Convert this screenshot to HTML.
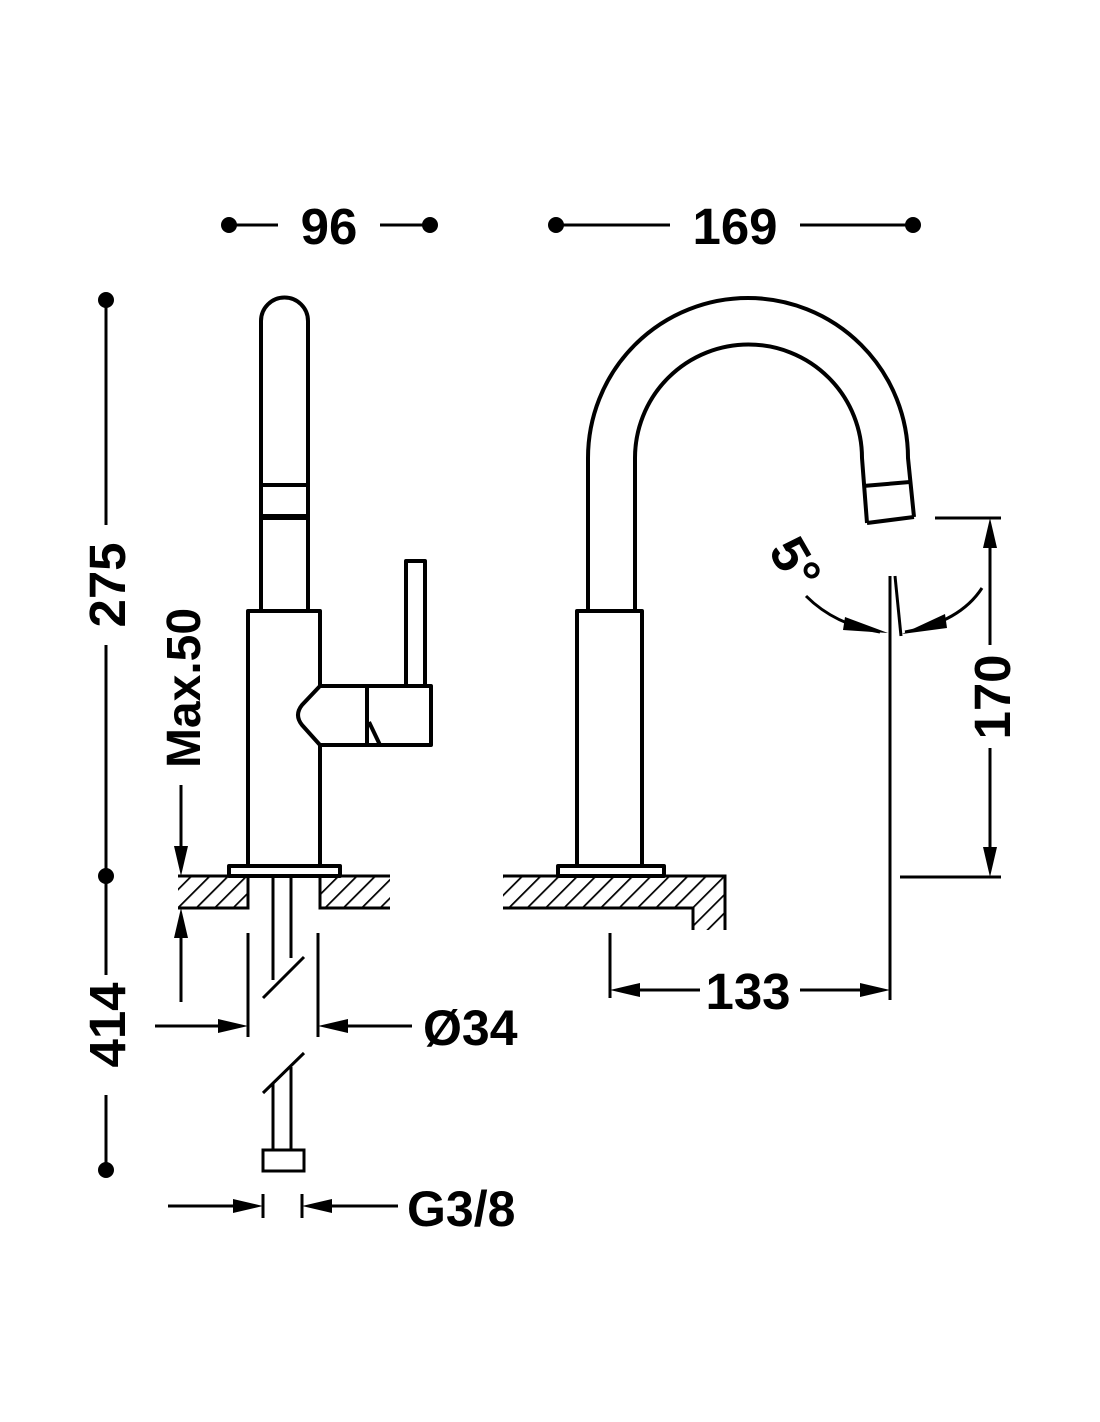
<!DOCTYPE html>
<html><head><meta charset="utf-8"><style>
html,body{margin:0;padding:0;background:#fff}
svg{display:block}
text{font-family:"Liberation Sans",Arial,sans-serif;font-weight:bold;fill:#000}
</style></head><body>
<svg width="1100" height="1422" viewBox="0 0 1100 1422" xmlns="http://www.w3.org/2000/svg">
<defs>
<pattern id="h" patternUnits="userSpaceOnUse" width="13" height="13" patternTransform="rotate(45)">
<line x1="0" y1="0" x2="0" y2="13" stroke="#000" stroke-width="3.5"/>
</pattern>
</defs>
<g fill="#000">
<circle cx="229" cy="225" r="8"/><circle cx="430" cy="225" r="8"/>
<circle cx="556" cy="225" r="8"/><circle cx="913" cy="225" r="8"/>
<circle cx="106" cy="300" r="8"/><circle cx="106" cy="876" r="8"/><circle cx="106" cy="1170" r="8"/>
</g>
<g stroke="#000" stroke-width="3" fill="none">
<line x1="229" y1="225" x2="278" y2="225"/><line x1="380" y1="225" x2="430" y2="225"/>
<line x1="556" y1="225" x2="670" y2="225"/><line x1="800" y1="225" x2="913" y2="225"/>
<line x1="106" y1="300" x2="106" y2="525"/><line x1="106" y1="645" x2="106" y2="876"/>
<line x1="106" y1="876" x2="106" y2="975"/><line x1="106" y1="1095" x2="106" y2="1170"/>
</g>
<text x="329" y="244" font-size="51" text-anchor="middle">96</text>
<text x="735" y="244" font-size="51" text-anchor="middle">169</text>
<text transform="translate(125,585) rotate(-90)" font-size="51" text-anchor="middle">275</text>
<text transform="translate(125,1025) rotate(-90)" font-size="51" text-anchor="middle">414</text>
<text transform="translate(200,688) rotate(-90)" font-size="48" text-anchor="middle">Max.50</text>

<g stroke="#000" stroke-width="4" fill="none" stroke-linejoin="round">
<path d="M261,611 L261,321 A23.5,23.5 0 0 1 308,321 L308,611"/>
<line x1="261" y1="485" x2="308" y2="485"/>
<line x1="261" y1="517" x2="308" y2="517" stroke-width="6"/>
<rect x="248" y="611" width="72" height="255"/>
<rect x="229" y="866" width="111" height="10"/>
<rect x="406" y="561" width="19" height="125"/>
<path d="M320,686 L431,686 L431,745 L320,745 L302,725 Q294,715 302,705 Z" fill="#fff"/>
<line x1="367" y1="686" x2="367" y2="745"/>
<line x1="369" y1="722" x2="380" y2="745"/>
</g>
<rect x="178" y="876" width="70" height="32" fill="url(#h)"/>
<rect x="320" y="876" width="70" height="32" fill="url(#h)"/>
<path d="M503,876 L725,876 L725,930 L693,930 L693,908 L503,908 Z" fill="url(#h)"/>
<g stroke="#000" stroke-width="3" fill="none">
<path d="M178,876 L248,876 L248,908 L178,908"/>
<path d="M390,876 L320,876 L320,908 L390,908"/>
<path d="M503,876 L725,876 L725,930 M693,930 L693,908 L503,908"/>
</g>
<g stroke="#000" stroke-width="3" fill="none">
<line x1="273" y1="878" x2="273" y2="980"/>
<line x1="291" y1="878" x2="291" y2="958"/>
<line x1="263" y1="998" x2="304" y2="957"/>
<line x1="263" y1="1093" x2="304" y2="1053"/>
<line x1="273" y1="1083" x2="273" y2="1150"/>
<line x1="291" y1="1067" x2="291" y2="1150"/>
<rect x="263" y="1150" width="41" height="21"/>
<line x1="248" y1="933" x2="248" y2="1037"/>
<line x1="318" y1="933" x2="318" y2="1037"/>
<line x1="155" y1="1026" x2="222" y2="1026"/>
<line x1="344" y1="1026" x2="412" y2="1026"/>
<line x1="263" y1="1194" x2="263" y2="1218"/>
<line x1="302" y1="1194" x2="302" y2="1218"/>
<line x1="168" y1="1206" x2="238" y2="1206"/>
<line x1="328" y1="1206" x2="398" y2="1206"/>
<line x1="181" y1="785" x2="181" y2="850"/>
<line x1="181" y1="935" x2="181" y2="1002"/>
</g>
<g fill="#000">
<polygon points="248,1026 218,1019 218,1033"/>
<polygon points="318,1026 348,1019 348,1033"/>
<polygon points="263,1206 233,1199 233,1213"/>
<polygon points="302,1206 332,1199 332,1213"/>
<polygon points="181,876 174,846 188,846"/>
<polygon points="181,908 174,938 188,938"/>
</g>
<text x="423" y="1045" font-size="50">Ø34</text>
<text x="407" y="1226" font-size="50">G3/8</text>

<g stroke="#000" stroke-width="4" fill="none" stroke-linejoin="round">
<path d="M588,611 L588,458 A160,160 0 0 1 908,458 L914,517"/>
<path d="M635,611 L635,458 A113.5,113.5 0 0 1 862,458 L867,523"/>
<line x1="863" y1="486" x2="910" y2="482"/>
<line x1="867" y1="523" x2="914" y2="517"/>
<rect x="577" y="611" width="65" height="255"/>
<rect x="558" y="866" width="106" height="10"/>
</g>
<g stroke="#000" stroke-width="3" fill="none">
<line x1="890" y1="576" x2="890" y2="1000"/>
<line x1="895" y1="576" x2="901" y2="636"/>
<path d="M806,596 Q835,625 880,632"/>
<path d="M982,588 Q960,622 905,632"/>
<line x1="935" y1="518" x2="1001" y2="518"/>
<line x1="900" y1="877" x2="1001" y2="877"/>
<line x1="990" y1="540" x2="990" y2="645"/>
<line x1="990" y1="748" x2="990" y2="855"/>
<line x1="610" y1="933" x2="610" y2="998"/>
<line x1="635" y1="990" x2="700" y2="990"/>
<line x1="800" y1="990" x2="865" y2="990"/>
</g>
<g fill="#000">
<polygon points="888,633 845,617 843,630"/>
<polygon points="902,634 945,614 947,628"/>
<polygon points="990,518 983,548 997,548"/>
<polygon points="990,877 983,847 997,847"/>
<polygon points="610,990 640,983 640,997"/>
<polygon points="890,990 860,983 860,997"/>
</g>
<text transform="translate(1010,697) rotate(-90)" font-size="51" text-anchor="middle">170</text>
<text x="748" y="1009" font-size="51" text-anchor="middle">133</text>
<text transform="translate(780,572) rotate(60)" font-size="52" text-anchor="middle">5°</text>
</svg>
</body></html>
